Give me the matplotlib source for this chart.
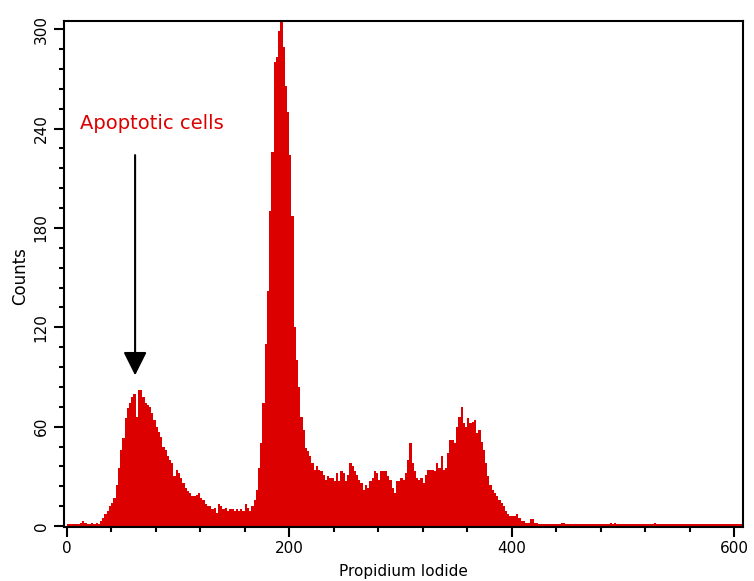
import numpy as np
import matplotlib
matplotlib.use('Agg')
import matplotlib.pyplot as plt

# counts per 2-channel bin
counts_0_98 = [1, 1, 1, 1, 1, 1, 2, 3, 2, 1,
               1, 2, 1, 2, 1, 3, 5, 7, 9, 12,
               14, 17, 25, 35, 46, 53, 65, 71, 74, 78,
               80, 66, 82, 82, 78, 74, 73, 72, 68, 64,
               60, 57, 54, 48, 46, 42, 40, 38, 30, 34]
counts_100_198 = [32, 29, 26, 23, 21, 20, 18, 18, 19, 20,
                  17, 16, 13, 12, 12, 10, 11, 8, 13, 12,
                  10, 11, 9, 10, 10, 9, 10, 9, 10, 9,
                  13, 11, 9, 12, 16, 22, 35, 50, 74, 110,
                  142, 190, 226, 280, 283, 299, 310, 289, 266, 250]
counts_200_298 = [224, 187, 120, 100, 84, 66, 58, 47, 45, 42,
                  38, 34, 36, 34, 33, 31, 28, 30, 29, 29,
                  27, 32, 27, 33, 32, 27, 31, 38, 36, 33,
                  31, 28, 26, 22, 25, 23, 27, 29, 33, 32,
                  28, 33, 33, 33, 30, 28, 23, 20, 27, 27]
counts_300_398 = [29, 28, 32, 40, 50, 38, 33, 29, 28, 29,
                  26, 31, 34, 34, 34, 33, 38, 35, 42, 34,
                  35, 44, 52, 52, 50, 60, 66, 72, 62, 60,
                  65, 62, 63, 64, 56, 58, 51, 46, 38, 30,
                  25, 22, 20, 18, 16, 14, 12, 9, 7, 6]
counts_400_498 = [6, 6, 7, 5, 3, 3, 2, 2, 4, 4,
                  2, 2, 1, 1, 1, 1, 1, 1, 1, 1,
                  1, 1, 2, 2, 1, 1, 1, 1, 1, 1,
                  1, 1, 1, 1, 1, 1, 1, 1, 1, 1,
                  1, 1, 1, 1, 2, 1, 2, 1, 1, 1]
counts_500_606 = [1, 1, 1, 1, 1, 1, 1, 1, 1, 1,
                  1, 1, 1, 1, 2, 1, 1, 1, 1, 1,
                  1, 1, 1, 1, 1, 1, 1, 1, 1, 1,
                  1, 1, 1, 1, 1, 1, 1, 1, 1, 1,
                  1, 1, 1, 1, 1, 1, 1, 1, 1, 1,
                  1, 1, 1, 1]
bin_width = 2

x_ticks = [0, 200, 400, 600]
y_ticks = [0, 60, 120, 180, 240, 300]
arrow_x = 61.5
arrow_top = 224
arrow_tip = 91

counts = np.array(counts_0_98 + counts_100_198 + counts_200_298 +
                  counts_300_398 + counts_400_498 + counts_500_606)
edges = np.arange(len(counts) + 1) * bin_width

red = '#dd0000'

fig = plt.figure(figsize=(7.54, 5.81), dpi=100)
ax = fig.add_axes([64/754, 1-527/581, 678.7/754, 506/581])

ax.stairs(counts, edges, fill=True, color=red, linewidth=0)

ax.set_xlim(-2.4, 607.6)
ax.set_ylim(-0.6, 305)

for s in ax.spines.values():
    s.set_linewidth(1.5)

ax.set_xticks(x_ticks)
ax.set_xticks(np.arange(0, 601, 40), minor=True)
ax.set_yticks(y_ticks)
ax.set_yticks(np.arange(0, 301, 12), minor=True)
ax.tick_params(which='major', direction='out', length=7, width=1.5, labelsize=11)
ax.tick_params(which='minor', direction='out', length=3.5, width=1.5)
ax.tick_params(axis='x', pad=3)
ax.tick_params(axis='y', pad=4)
plt.setp(ax.get_yticklabels(), rotation=90, va='center')

ax.set_xlabel('Propidium Iodide', fontsize=11, va='center')
ax.xaxis.set_label_coords(0.5, -0.087)
ax.set_ylabel('Counts', fontsize=12, va='center')
ax.yaxis.set_label_coords(-0.064, 0.495)

ax.text(12, 240, 'Apoptotic cells', color=red, fontsize=14, va='baseline', ha='left')
ax.annotate('', xy=(arrow_x, arrow_tip), xytext=(arrow_x, arrow_top),
            arrowprops=dict(arrowstyle='-|>,head_width=0.4,head_length=0.8',
                            mutation_scale=18, lw=1.5, color='black',
                            shrinkA=0, shrinkB=0))

plt.savefig('out.png', dpi=100)
